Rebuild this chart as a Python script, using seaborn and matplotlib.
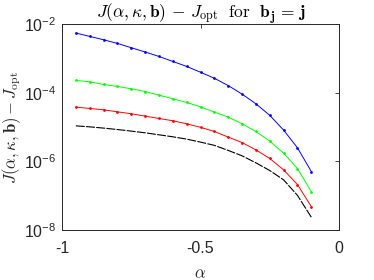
import numpy as np
import pandas as pd
import matplotlib
matplotlib.use("Agg")
import matplotlib.pyplot as plt
import matplotlib.ticker as mticker
import seaborn as sns

alpha = [-0.95, -0.9, -0.85, -0.8, -0.75, -0.7, -0.65, -0.6, -0.55, -0.5,
         -0.45, -0.4, -0.35, -0.3, -0.25, -0.2, -0.15, -0.1]

blue_vals = [5.47e-3, 4.35e-3, 3.48e-3, 2.72e-3, 2.04e-3, 1.53e-3, 1.135e-3, 8.13e-4, 5.81e-4,
             3.94e-4, 2.63e-4, 1.61e-4, 9.10e-5, 4.74e-5, 2.19e-5, 8.13e-6, 2.48e-6, 5.05e-7]
green_vals = [2.27e-4, 2.08e-4, 1.73e-4, 1.52e-4, 1.30e-4, 1.08e-4, 8.51e-5, 6.64e-5, 5.18e-5,
              3.88e-5, 2.72e-5, 1.95e-5, 1.24e-5, 7.40e-6, 3.88e-6, 1.73e-6, 6.17e-7, 1.32e-7]
red_vals = [3.80e-5, 3.46e-5, 3.17e-5, 2.77e-5, 2.43e-5, 2.08e-5, 1.77e-5, 1.52e-5, 1.24e-5,
            9.79e-6, 7.40e-6, 5.08e-6, 3.53e-6, 2.16e-6, 1.21e-6, 5.65e-7, 2.11e-7, 4.81e-8]
black_vals = [1.08e-5, 1.01e-5, 9.29e-6, 8.45e-6, 7.59e-6, 6.78e-6, 5.93e-6, 5.18e-6, 4.44e-6,
              3.63e-6, 2.92e-6, 2.08e-6, 1.45e-6, 9.04e-7, 5.40e-7, 2.89e-7, 1.02e-7, 2.36e-8]

xticks = [-1, -0.5, 0]
xtick_labels = ["-1", "-0.5", "0"]
ytick_exps = [-8, -6, -4, -2]

sns.set_theme(style="white")
plt.rcParams["font.family"] = ["Liberation Sans", "DejaVu Sans"]
plt.rcParams["mathtext.fontset"] = "custom"
plt.rcParams["mathtext.rm"] = "Liberation Sans"
plt.rcParams["mathtext.it"] = "Liberation Sans:italic"
plt.rcParams["axes.unicode_minus"] = False

fig = plt.figure(figsize=(3.74, 2.80), dpi=100)
ax = fig.add_axes([62/374, 1-230/280, (339-62)/374, (230-24)/280])

dark = (0.15, 0.15, 0.15)
for vals, col in [(blue_vals, "#0000ff"), (green_vals, "#00ff00"), (red_vals, "#ff0000")]:
    df = pd.DataFrame({"alpha": alpha, "J": vals})
    sns.lineplot(data=df, x="alpha", y="J", ax=ax, color=col, lw=0.7,
                 marker="o", markersize=2.0, markeredgewidth=0, markerfacecolor=col)
dfk = pd.DataFrame({"alpha": alpha, "J": black_vals})
sns.lineplot(data=dfk, x="alpha", y="J", ax=ax, color="black", lw=0.8,
             linestyle=(0, (8, 1.2)))

ax.set_yscale("log")
ax.set_xlim(-1, 0)
ax.set_ylim(1e-8, 1e-2)
ax.set_xticks(xticks)
ax.set_xticklabels(xtick_labels)
ax.yaxis.set_major_locator(mticker.FixedLocator([10.0**e for e in ytick_exps]))
ax.yaxis.set_minor_locator(mticker.NullLocator())
ax.set_yticklabels([r"$\mathregular{10^{%d}}$" % e for e in ytick_exps])

ax.tick_params(axis="both", which="major", direction="in", length=3, width=0.6,
               top=True, right=True, labelsize=11.5, colors=dark)
ax.tick_params(axis="x", pad=8)
ax.tick_params(axis="y", pad=4)
for s in ax.spines.values():
    s.set_color(dark)
    s.set_linewidth(0.7)
    s.set_visible(True)

ax.set_xlabel(r"$\alpha$", fontsize=12, math_fontfamily="cm", color=dark, labelpad=7)
ax.set_ylabel(r"$J(\alpha,\kappa,\mathbf{b})-J_{\mathrm{opt}}$", fontsize=12,
              math_fontfamily="cm", color=dark, labelpad=1)
ax.set_title(r"$J(\alpha,\kappa,\mathbf{b})\,-\,J_{\mathrm{opt}}\ \ \mathrm{for}\ \ \mathbf{b_j}\,=\,\mathbf{j}$",
             fontsize=12.5, math_fontfamily="cm", color="black", pad=4)

fig.savefig("out.png", dpi=100)
